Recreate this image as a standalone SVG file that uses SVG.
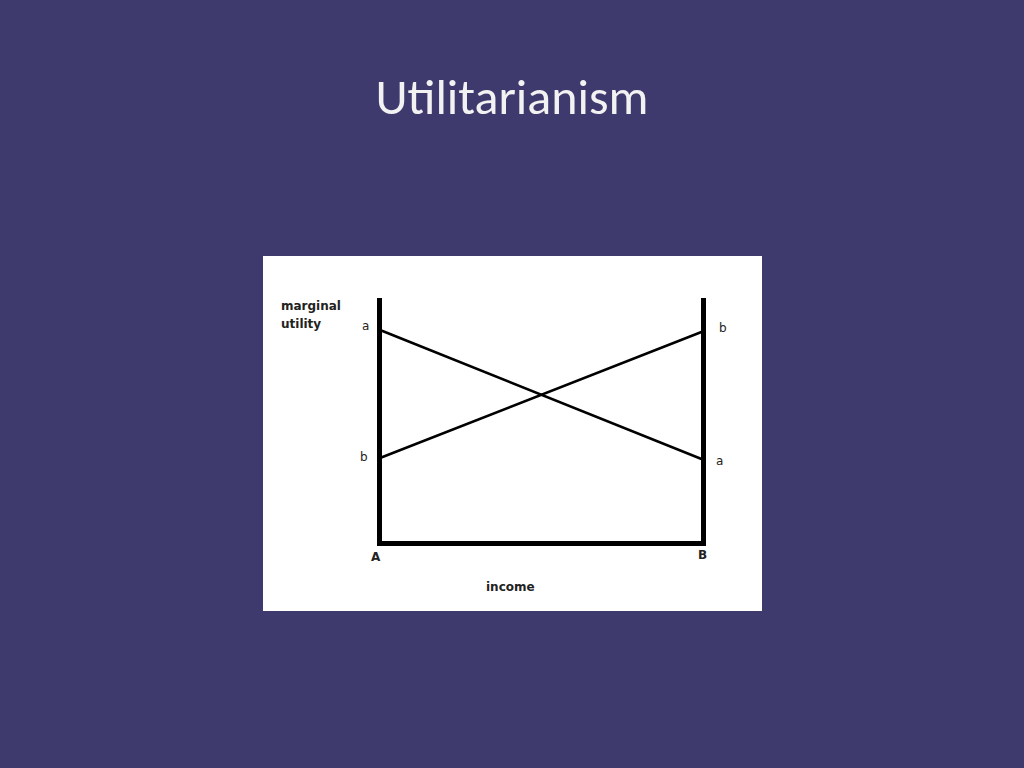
<svg xmlns="http://www.w3.org/2000/svg" width="1024" height="768" viewBox="0 0 1024 768">
<style>.t{font-family:"DejaVu Sans",Verdana,sans-serif;font-size:12px;fill:#222}.b{font-weight:bold}</style>
<rect width="1024" height="768" fill="#3f3a6e"/>
<text x="512" y="114" text-anchor="middle" font-family="Calibri,Carlito,'Open Sans',sans-serif" font-size="50" fill="#f2f2f2">Utilitarianism</text>
<rect x="263" y="256" width="499" height="355" fill="#fff"/>
<g id="connectors" stroke="#000" fill="none" stroke-linecap="round">
<path d="M379.5 298V543.5H703.5V298" stroke-width="5" stroke-linecap="butt"/>
<line x1="380" y1="330" x2="704" y2="460" stroke-width="2.5"/>
<line x1="380" y1="458" x2="704" y2="331" stroke-width="2.5"/>
</g>
<g id="labels">
<text class="t b" x="281" y="310">marginal</text>
<text class="t b" x="281" y="328">utility</text>
<text class="t" x="362" y="330">a</text>
<text class="t" x="360" y="461">b</text>
<text class="t" x="719" y="332">b</text>
<text class="t" x="716" y="465">a</text>
<text class="t b" x="371" y="561">A</text>
<text class="t b" x="698" y="559">B</text>
<text class="t b" x="486" y="591">income</text>
</g>
</svg>
